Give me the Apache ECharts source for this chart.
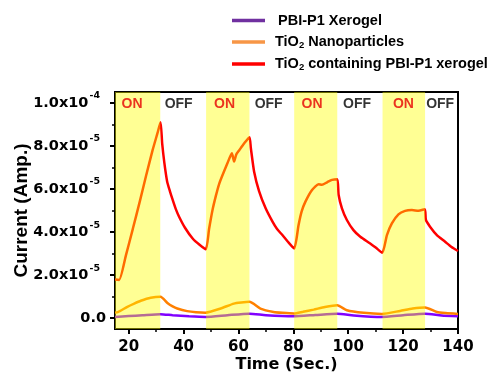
<!DOCTYPE html>
<html><head><meta charset="utf-8">
<script src="https://cdn.jsdelivr.net/npm/echarts@6/dist/echarts.min.js"></script>
<style>html,body{margin:0;padding:0;background:#fff}#c{width:491px;height:374px}</style>
</head><body><div id="c"></div>
<script>
// Current values in units of 1e-5 A, time in seconds
const seriesNames = ['PBI-P1 Xerogel', 'TiO2 Nanoparticles', 'TiO2 containing PBI-P1 xerogel'];

const purpleXerogel = [[15,0.06],[20,0.1],[25,0.14],[31.6,0.19],[36,0.14],[42,0.09],[48,0.06],[56,0.14],[64,0.21],[70,0.14],[80,0.09],[88,0.15],[96,0.21],[102,0.13],[112,0.06],[120,0.14],[128,0.21],[134,0.13],[140,0.09]];

const orangeNanoparticles = [[15,0.26],[16,0.28],[19.5,0.53],[22,0.68],[24.4,0.81],[28,0.95],[31.6,1.0],[34.1,0.71],[36,0.55],[37.7,0.45],[41.3,0.33],[44.5,0.28],[48,0.26],[53.5,0.45],[58.3,0.68],[61,0.73],[64,0.76],[68,0.45],[72.8,0.29],[76,0.25],[80.2,0.22],[83.5,0.3],[87.4,0.4],[91.5,0.52],[96,0.6],[99.5,0.37],[105.6,0.25],[112.3,0.2],[118.9,0.34],[123.5,0.45],[128,0.5],[132.3,0.29],[135.5,0.24],[140,0.2]];

const redComposite = [[15,1.8],[16.5,1.78],[19,2.93],[21.5,4.15],[24,5.4],[26.3,6.6],[28.7,7.8],[30.5,8.6],[31.6,9.1],
  [32.2,8.1],[33,7.2],[34,6.35],[35,5.9],[36,5.5],[37.2,5.05],[38.4,4.7],[40.5,4.2],[43.3,3.7],[45.7,3.42],[48.1,3.2],
  [49.3,4.15],[50.5,5.0],[51.8,5.7],[53,6.25],[54.2,6.65],[56,7.2],[57.6,7.66],[58.4,7.27],[59.2,7.6],[60.3,7.8],[62.1,8.12],[64,8.4],
  [64.5,7.9],[65.7,6.8],[67.5,5.9],[69.9,5.1],[72.4,4.48],[74,4.15],[76,3.86],[78,3.55],[80.3,3.24],
  [81.9,4.33],[83,4.95],[84.4,5.41],[86.8,5.95],[89.2,6.22],[90.4,6.19],[92.3,6.31],[94.1,6.42],[96,6.45],
  [96.5,5.72],[97.7,5.1],[99.5,4.56],[101.9,4.09],[104.4,3.78],[108,3.47],[110,3.28],[112.4,3.04],
  [114.1,3.86],[115.9,4.4],[118.3,4.82],[120.7,4.98],[123.2,5.02],[125.6,4.99],[127.9,5.06],
  [128.3,4.56],[129.8,4.25],[132.3,3.86],[135.3,3.55],[137.5,3.32],[140,3.12]];

const onStart = [15, 48.2, 80.3, 112.5];
const onEnd = [31.5, 64, 96, 128];
const onLabelX = [21.2, 54.9, 86.8, 120.1];
const offLabelX = [38.2, 71.0, 103.2, 133.5];
const stateLabelY = 9.95;

const xTickValues = [20, 40, 60, 80, 100, 120, 140];
const xMinorTickValues = [30, 50, 70, 90, 110, 130];
const yTickValues = [0, 2, 4, 6, 8, 10];
const yTickMantissa = ['0.0', '2.0', '4.0', '6.0', '8.0', '1.0'];
const yTickExponent = ['', '-5', '-5', '-5', '-5', '-4'];
const yMinorTickValues = [1, 3, 5, 7, 9];

const chart = echarts.init(document.getElementById('c'));
const tickFont = 'DejaVu Sans';
const gridPos = {left: 115, right: 33, top: 92, bottom: 45};

function yLabel(v) {
  const i = yTickValues.indexOf(Math.round(v));
  if (i < 0) return '';
  if (!yTickExponent[i]) return '{m|' + yTickMantissa[i] + '}';
  return '{m|' + yTickMantissa[i] + 'x10}{s|' + yTickExponent[i] + '}';
}

const legendText = {
  'PBI-P1 Xerogel': '{p8|PBI-P1 Xerogel}',
  'TiO2 Nanoparticles': '{p5|TiO}{sub|2}{t| Nanoparticles}',
  'TiO2 containing PBI-P1 xerogel': '{p5|TiO}{sub|2}{t| containing PBI-P1 xerogel}'
};
const legendColors = ['#7030A0', '#F79646', '#FF0000'];
const lf = 14.5;

chart.setOption({
  backgroundColor: '#fff',
  animation: false,
  grid: Object.assign({show: true, borderColor: '#000', borderWidth: 2, backgroundColor: 'transparent', containLabel: false, outerBoundsMode: 'none'}, gridPos),
  legend: {
    orient: 'vertical', left: 232, top: 13, padding: 0, itemWidth: 33, itemHeight: 3.5, itemGap: 6.5, icon: 'rect',
    data: seriesNames.map((n, i) => ({name: n, icon: 'rect', itemStyle: {color: legendColors[i]}})),
    formatter: n => legendText[n],
    textStyle: {
      fontFamily: 'Liberation Sans', fontWeight: 'bold', fontSize: lf, color: '#000',
      rich: {
        p8: {padding: [0,0,0,8], fontFamily: 'Liberation Sans', fontWeight: 'bold', fontSize: lf, lineHeight: 16},
        p5: {padding: [0,0,0,5], fontFamily: 'Liberation Sans', fontWeight: 'bold', fontSize: lf, lineHeight: 16},
        t: {fontFamily: 'Liberation Sans', fontWeight: 'bold', fontSize: lf, lineHeight: 16},
        sub: {fontFamily: 'Liberation Sans', fontWeight: 'bold', fontSize: 9.5, lineHeight: 16, verticalAlign: 'bottom', padding: [5,0,0,0]}
      }
    }
  },
  xAxis: [{
    type: 'value', min: 15, max: 140,
    axisLine: {onZero: false, lineStyle: {color: '#000', width: 2}},
    axisTick: {show: true, inside: false, length: 5, lineStyle: {color: '#000', width: 2}, customValues: xTickValues},
    axisLabel: {customValues: xTickValues, margin: 11, color: '#000', fontFamily: tickFont, fontWeight: 'bold', fontSize: 15},
    splitLine: {show: false},
    name: 'Time (Sec.)', nameLocation: 'middle', nameGap: 28, nameMoveOverlap: false,
    nameTextStyle: {color: '#000', fontFamily: tickFont, fontWeight: 'bold', fontSize: 16}
  }, {
    type: 'value', min: 15, max: 140, position: 'bottom',
    axisLine: {show: false, onZero: false},
    axisTick: {show: true, length: 3, lineStyle: {color: '#000', width: 1.5}, customValues: xMinorTickValues},
    axisLabel: {show: false}, splitLine: {show: false}
  }],
  yAxis: [{
    type: 'value', min: -0.5, max: 10.5,
    axisLine: {lineStyle: {color: '#000', width: 2}},
    axisTick: {show: true, length: 5, lineStyle: {color: '#000', width: 2}, customValues: yTickValues},
    axisLabel: {
      customValues: yTickValues, margin: 9, formatter: yLabel,
      rich: {
        m: {color: '#000', fontFamily: tickFont, fontWeight: 'bold', fontSize: 14.5, lineHeight: 24},
        s: {color: '#000', fontFamily: tickFont, fontWeight: 'bold', fontSize: 9.5, lineHeight: 10, verticalAlign: 'top', padding: [0,6,0,1]}
      }
    },
    splitLine: {show: false},
    name: 'Current (Amp.)', nameLocation: 'middle', nameGap: 84, nameMoveOverlap: false,
    nameTextStyle: {color: '#000', fontFamily: 'Liberation Sans', fontWeight: 'bold', fontSize: 19}
  }, {
    type: 'value', min: -0.5, max: 10.5, position: 'left',
    axisLine: {show: false},
    axisTick: {show: true, length: 3, lineStyle: {color: '#000', width: 1.5}, customValues: yMinorTickValues},
    axisLabel: {show: false}, splitLine: {show: false}
  }],
  series: [
    {name: seriesNames[0], type: 'line', data: purpleXerogel, symbol: 'none', smooth: 0.2, z: 2, lineStyle: {color: '#8000FF', width: 2.5}, itemStyle: {color: '#8000FF'}},
    {name: seriesNames[1], type: 'line', data: orangeNanoparticles, symbol: 'none', smooth: 0.2, z: 2, lineStyle: {color: '#FF8000', width: 2.5}, itemStyle: {color: '#FF8000'}},
    {name: seriesNames[2], type: 'line', data: redComposite, symbol: 'none', smooth: 0.2, z: 3, lineStyle: {color: '#FF0000', width: 2.5}, itemStyle: {color: '#FF0000'}},
    {name: 'bands', type: 'line', data: [], z: 6, markArea: {silent: true, z: 6, itemStyle: {color: 'rgba(255,255,0,0.42)'},
      data: onStart.map((s, i) => [{xAxis: s}, {xAxis: onEnd[i]}])}},
    {name: 'ON', type: 'scatter', z: 10, silent: true, symbolSize: 1, itemStyle: {color: 'rgba(0,0,0,0)'},
      data: onLabelX.map(x => [x, stateLabelY]),
      label: {show: true, position: 'inside', formatter: 'ON', color: '#E60000', fontFamily: 'Liberation Sans', fontWeight: 'bold', fontSize: 14}},
    {name: 'OFF', type: 'scatter', z: 10, silent: true, symbolSize: 1, itemStyle: {color: 'rgba(0,0,0,0)'},
      data: offLabelX.map(x => [x, stateLabelY]),
      label: {show: true, position: 'inside', formatter: 'OFF', color: '#000', fontFamily: 'Liberation Sans', fontWeight: 'bold', fontSize: 14}}
  ]
});
</script>
</body></html>
